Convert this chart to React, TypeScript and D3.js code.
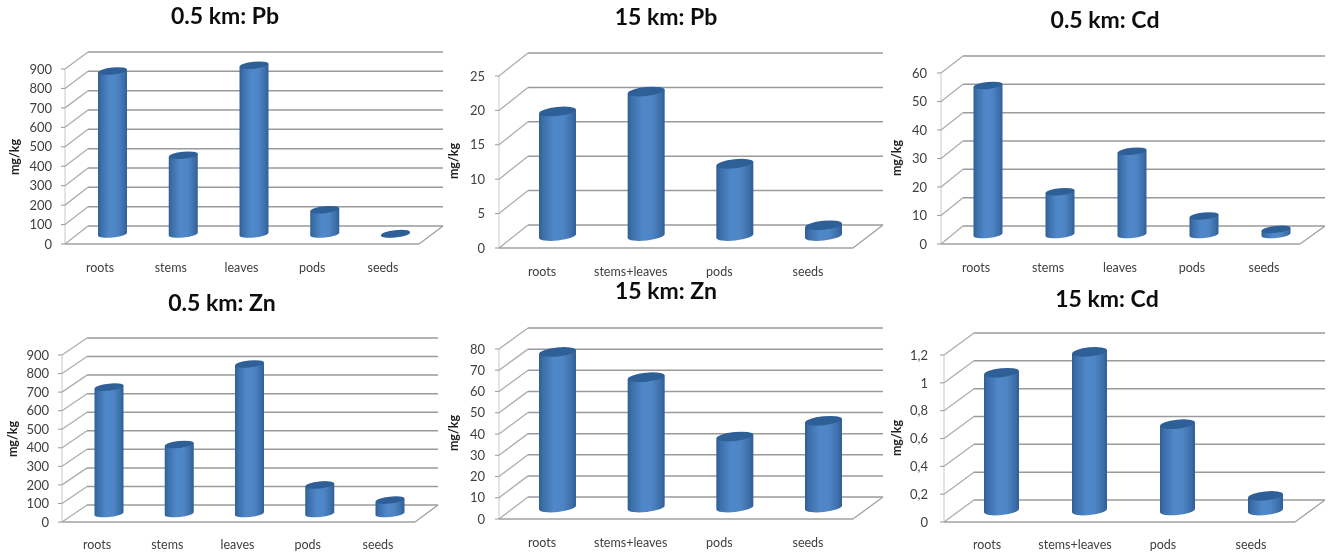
import React from "react";
import * as d3 from "d3";

const partsFive = ["roots", "stems", "leaves", "pods", "seeds"];
const partsFour = ["roots", "stems+leaves", "pods", "seeds"];

const pbNear = [838, 405, 868, 125, 2];
const pbFar = [18.1, 21, 10.5, 1.55];
const cdNear = [52.3, 15, 29.2, 6.5, 1.8];
const znNear = [681, 372, 806, 154, 72];
const znFar = [73.2, 61.3, 33.4, 40.8];
const cdFar = [0.99, 1.14, 0.62, 0.105];

const ticksPb = [0, 100, 200, 300, 400, 500, 600, 700, 800, 900];
const ticksPbFar = [0, 5, 10, 15, 20, 25];
const ticksCd = [0, 10, 20, 30, 40, 50, 60];
const ticksZnFar = [0, 10, 20, 30, 40, 50, 60, 70, 80];
const ticksCdFar = [0, 0.2, 0.4, 0.6, 0.8, 1, 1.2];

const panels = [
  { id: "a", title: "0.5 km: Pb", cats: partsFive, vals: pbNear, ticks: ticksPb, fx: 65, y0: 244, yt: 69, bx: 88, by0: 226, byt: 52, rb: 443, rf: 419, lx: 52, c0: 100, c1: 383, cy: 267, tx: 225, ty: 16, ux: 14, uy: 157, off: 12.5, w: 29, base: 234, ry: 3.5 },
  { id: "b", title: "15 km: Pb", cats: partsFour, vals: pbFar, ticks: ticksPbFar, fx: 499, y0: 248, yt: 76, bx: 528, by0: 225, byt: 53, rb: 883, rf: 853, lx: 485, c0: 542, c1: 808, cy: 271, tx: 666, ty: 17, ux: 453, uy: 161, off: 15.5, w: 37, base: 236, ry: 4.5 },
  { id: "c", title: "0.5 km: Cd", cats: partsFive, vals: cdNear, ticks: ticksCd, fx: 941, y0: 244, yt: 73, bx: 963, by0: 226, byt: 56, rb: 1325, rf: 1300, lx: 927, c0: 976, c1: 1264, cy: 267, tx: 1105, ty: 20, ux: 896, uy: 158, off: 12, w: 29, base: 234.5, ry: 3.5 },
  { id: "d", title: "0.5 km: Zn", cats: partsFive, vals: znNear, ticks: ticksPb, fx: 62, y0: 522, yt: 355, bx: 87, by0: 505, byt: 338, rb: 438, rf: 415, lx: 49, c0: 97, c1: 378, cy: 544, tx: 222, ty: 303, ux: 12, uy: 439, off: 12, w: 29, base: 513.5, ry: 3.5 },
  { id: "e", title: "15 km: Zn", cats: partsFour, vals: znFar, ticks: ticksZnFar, fx: 499, y0: 519, yt: 349, bx: 528, by0: 497, byt: 328, rb: 883, rf: 853, lx: 485, c0: 542, c1: 808, cy: 542, tx: 666, ty: 291, ux: 453, uy: 433, off: 15.5, w: 37, base: 507.5, ry: 4.5 },
  { id: "f", title: "15 km: Cd", cats: partsFour, vals: cdFar, ticks: ticksCdFar, fx: 944, y0: 522, yt: 355, bx: 974, by0: 500, byt: 333, rb: 1325, rf: 1295, lx: 928, c0: 987, c1: 1251, cy: 544, tx: 1107, ty: 299, ux: 896, uy: 438, off: 14.5, w: 35, base: 510.5, ry: 4.5 },
];

const FONT = "Lato, 'Open Sans', sans-serif";
const SLANT = -6;

function Panel({ p }: { p: (typeof panels)[number] }) {
  const max = p.ticks[p.ticks.length - 1];
  const yFront = d3.scaleLinear().domain([0, max]).range([p.y0, p.yt]);
  const yBack = d3.scaleLinear().domain([0, max]).range([p.by0, p.byt]);
  const yBar = d3.scaleLinear().domain([0, max]).range([p.base, p.base - (p.y0 - p.yt)]);
  const x = d3.scalePoint<string>().domain(p.cats).range([p.c0, p.c1]);
  const fmt = (v: number) => String(v).replace(".", ",");
  const rx = p.w / 2;
  const s = rx * Math.tan((-SLANT * Math.PI) / 180);
  return (
    <g>
      <line x1={p.fx} x2={p.fx} y1={p.y0} y2={p.yt} stroke="#c8c8c8" strokeWidth={1} />
      {p.ticks.map((t) => (
        <g key={t}>
          <line x1={p.fx - 4} y1={yFront(t)} x2={p.fx} y2={yFront(t)} stroke="#a0a0a0" strokeWidth={1.1} />
          <line x1={p.fx} y1={yFront(t)} x2={p.bx} y2={yBack(t)} stroke="#adadad" strokeWidth={1.3} />
          <line x1={p.bx} y1={yBack(t)} x2={p.rb} y2={yBack(t)} stroke="#9a9a9a" strokeWidth={1.5} />
          <text x={p.lx} y={yFront(t)} dy="0.36em" textAnchor="end" fontFamily={FONT} fontSize={13} fill="#404040">
            {fmt(t)}
          </text>
        </g>
      ))}
      <line x1={p.fx} y1={p.y0} x2={p.rf} y2={p.y0} stroke="#a0a0a0" strokeWidth={1.5} />
      <line x1={p.rf} y1={p.y0} x2={p.rb} y2={p.by0} stroke="#a0a0a0" strokeWidth={1.3} />
      {p.cats.map((c, i) => {
        const cx = (x(c) as number) + p.off;
        const top = yBar(p.vals[i]);
        const body = `M${cx - rx},${top + s} L${cx - rx},${p.base + s} A${rx},${p.ry} ${SLANT} 0 0 ${cx + rx},${p.base - s} L${cx + rx},${top - s} Z`;
        return (
          <g key={c}>
            <path d={body} fill="url(#cyl)" />
            <ellipse cx={cx} cy={top} rx={rx} ry={p.ry} fill="#2f5f97" transform={`rotate(${SLANT} ${cx} ${top})`} />
            <text x={x(c)} y={p.cy} dy="0.36em" textAnchor="middle" fontFamily={FONT} fontSize={12.5} fill="#404040">
              {c}
            </text>
          </g>
        );
      })}
      <text x={p.tx} y={p.ty} dy="0.36em" textAnchor="middle" fontFamily={FONT} fontWeight={700} fontSize={23} fill="#111">
        {p.title}
      </text>
      <text
        transform={`translate(${p.ux} ${p.uy}) rotate(-90)`}
        dy="0.36em"
        textAnchor="middle"
        fontFamily={FONT}
        fontWeight={700}
        fontSize={12.5}
        fill="#222"
      >
        mg/kg
      </text>
    </g>
  );
}

export default function App() {
  return (
    <svg width={1333} height={556} style={{ position: "absolute", left: 0, top: 0, display: "block", background: "#fff" }}>
      <defs>
        <linearGradient id="cyl" x1="0" x2="1" y1="0" y2="0">
          <stop offset="0" stopColor="#2f5d94" />
          <stop offset="0.1" stopColor="#3b6ea9" />
          <stop offset="0.4" stopColor="#5088c9" />
          <stop offset="0.65" stopColor="#4e85c5" />
          <stop offset="0.88" stopColor="#3d6fab" />
          <stop offset="1" stopColor="#305e94" />
        </linearGradient>
        <filter id="soft" x="0" y="0" width="100%" height="100%">
          <feGaussianBlur stdDeviation="0.5" />
        </filter>
      </defs>
      <g filter="url(#soft)">
        {panels.map((p) => (
          <Panel key={p.id} p={p} />
        ))}
      </g>
    </svg>
  );
}
